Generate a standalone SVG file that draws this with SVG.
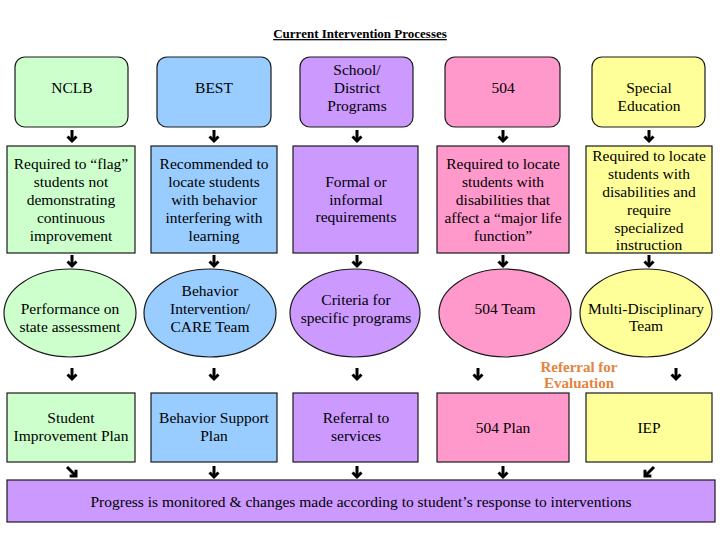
<svg xmlns="http://www.w3.org/2000/svg" width="720" height="540" viewBox="0 0 720 540">
<style>
.t{font-family:"Liberation Serif","Times New Roman",serif;font-size:15.5px;fill:#000;text-anchor:middle}
.ttl{font-family:"Liberation Serif","Times New Roman",serif;font-size:13px;font-weight:bold;text-anchor:middle;text-decoration:underline}
.ref{font-family:"Liberation Serif","Times New Roman",serif;font-size:15px;font-weight:bold;fill:#E3843F;text-anchor:middle}
.g{fill:#CCFFCC}.b{fill:#99CCFF}.p{fill:#CC99FF}.k{fill:#FF99CC}.y{fill:#FFFF99}
.s{stroke:#1a1a1a;stroke-width:1.2}
.a{stroke:#000;stroke-width:3;fill:none}
</style>
<defs>
<marker id="h" markerUnits="userSpaceOnUse" markerWidth="12" markerHeight="12" refX="0" refY="0" orient="auto" overflow="visible">
<path d="M-4.5,-4.5 L0,0 L-4.5,4.5" fill="none" stroke="#000" stroke-width="3"/>
</marker>
</defs>
<rect width="720" height="540" fill="#fff"/>
<text class="ttl" x="360" y="38">Current Intervention Processes</text>

<g id="nclb">
<rect class="g s" x="15" y="57" width="113" height="70" rx="10"/>
<text class="t" x="72" y="93">NCLB</text>
</g>
<g id="best">
<rect class="b s" x="157" y="57" width="114" height="70" rx="10"/>
<text class="t" x="214" y="93">BEST</text>
</g>
<g id="school">
<rect class="p s" x="300" y="57" width="113" height="70" rx="10"/>
<text class="t" x="357" y="75">School/</text>
<text class="t" x="357" y="93">District</text>
<text class="t" x="357" y="111">Programs</text>
</g>
<g id="s504">
<rect class="k s" x="445" y="57" width="115" height="70" rx="10"/>
<text class="t" x="503" y="93">504</text>
</g>
<g id="sped">
<rect class="y s" x="592" y="57" width="113" height="70" rx="10"/>
<text class="t" x="649" y="93">Special</text>
<text class="t" x="649" y="111">Education</text>
</g>

<g id="nclb-req">
<rect class="g s" x="7" y="146" width="128" height="107"/>
<text class="t" x="71" y="169">Required to “flag”</text>
<text class="t" x="71" y="187">students not</text>
<text class="t" x="71" y="205">demonstrating</text>
<text class="t" x="71" y="223">continuous</text>
<text class="t" x="71" y="241">improvement</text>
</g>
<g id="best-req">
<rect class="b s" x="151" y="146" width="126" height="107"/>
<text class="t" x="214" y="169">Recommended to</text>
<text class="t" x="214" y="187">locate students</text>
<text class="t" x="214" y="205">with behavior</text>
<text class="t" x="214" y="223">interfering with</text>
<text class="t" x="214" y="241">learning</text>
</g>
<g id="school-req">
<rect class="p s" x="293" y="146" width="125" height="107"/>
<text class="t" x="356" y="187">Formal or</text>
<text class="t" x="356" y="205">informal</text>
<text class="t" x="356" y="222">requirements</text>
</g>
<g id="s504-req">
<rect class="k s" x="437" y="146" width="132" height="107"/>
<text class="t" x="503" y="169">Required to locate</text>
<text class="t" x="503" y="187">students with</text>
<text class="t" x="503" y="205">disabilities that</text>
<text class="t" x="503" y="223">affect a “major life</text>
<text class="t" x="503" y="241">function”</text>
</g>
<g id="sped-req">
<rect class="y s" x="586" y="146" width="126" height="107"/>
<text class="t" x="649" y="161">Required to locate</text>
<text class="t" x="649" y="179">students with</text>
<text class="t" x="649" y="197">disabilities and</text>
<text class="t" x="649" y="215">require</text>
<text class="t" x="649" y="233">specialized</text>
<text class="t" x="649" y="250">instruction</text>
</g>

<g id="nclb-team">
<ellipse class="g s" cx="70" cy="313" rx="66" ry="44"/>
<text class="t" x="70" y="314">Performance on</text>
<text class="t" x="70" y="332">state assessment</text>
</g>
<g id="best-team">
<ellipse class="b s" cx="210" cy="313" rx="66" ry="44"/>
<text class="t" x="210" y="296">Behavior</text>
<text class="t" x="210" y="314">Intervention/</text>
<text class="t" x="210" y="332">CARE Team</text>
</g>
<g id="school-team">
<ellipse class="p s" cx="355" cy="313" rx="65" ry="44"/>
<text class="t" x="356" y="305">Criteria for</text>
<text class="t" x="356" y="323">specific programs</text>
</g>
<g id="s504-team">
<ellipse class="k s" cx="505" cy="313" rx="66" ry="44"/>
<text class="t" x="505" y="314">504 Team</text>
</g>
<g id="sped-team">
<ellipse class="y s" cx="646" cy="313" rx="66" ry="44"/>
<text class="t" x="646" y="314">Multi-Disciplinary</text>
<text class="t" x="646" y="331">Team</text>
</g>

<g id="referral-label">
<text class="ref" x="579" y="372">Referral for</text>
<text class="ref" x="579" y="388">Evaluation</text>
</g>

<g id="nclb-plan">
<rect class="g s" x="7" y="393" width="128" height="69"/>
<text class="t" x="71" y="423">Student</text>
<text class="t" x="71" y="441">Improvement Plan</text>
</g>
<g id="best-plan">
<rect class="b s" x="151" y="393" width="126" height="69"/>
<text class="t" x="214" y="423">Behavior Support</text>
<text class="t" x="214" y="441">Plan</text>
</g>
<g id="school-plan">
<rect class="p s" x="293" y="393" width="125" height="69"/>
<text class="t" x="356" y="423">Referral to</text>
<text class="t" x="356" y="441">services</text>
</g>
<g id="s504-plan">
<rect class="k s" x="437" y="393" width="132" height="69"/>
<text class="t" x="503" y="433">504 Plan</text>
</g>
<g id="sped-plan">
<rect class="y s" x="586" y="393" width="126" height="69"/>
<text class="t" x="649" y="433">IEP</text>
</g>

<g id="progress">
<rect class="p s" x="7" y="480" width="708" height="42"/>
<text class="t" x="361" y="507">Progress is monitored &amp; changes made according to student’s response to interventions</text>
</g>

<g id="connectors">
<line class="a" x1="72" y1="130" x2="72" y2="141" marker-end="url(#h)"/>
<line class="a" x1="214" y1="130" x2="214" y2="141" marker-end="url(#h)"/>
<line class="a" x1="357" y1="130" x2="357" y2="141" marker-end="url(#h)"/>
<line class="a" x1="503" y1="130" x2="503" y2="141" marker-end="url(#h)"/>
<line class="a" x1="649" y1="130" x2="649" y2="141" marker-end="url(#h)"/>

<line class="a" x1="72" y1="255" x2="72" y2="266" marker-end="url(#h)"/>
<line class="a" x1="214" y1="255" x2="214" y2="266" marker-end="url(#h)"/>
<line class="a" x1="357" y1="255" x2="357" y2="266" marker-end="url(#h)"/>
<line class="a" x1="503" y1="255" x2="503" y2="266" marker-end="url(#h)"/>
<line class="a" x1="649" y1="255" x2="649" y2="266" marker-end="url(#h)"/>

<line class="a" x1="72" y1="368" x2="72" y2="379" marker-end="url(#h)"/>
<line class="a" x1="214" y1="368" x2="214" y2="379" marker-end="url(#h)"/>
<line class="a" x1="357" y1="368" x2="357" y2="379" marker-end="url(#h)"/>
<line class="a" x1="478" y1="368" x2="478" y2="379" marker-end="url(#h)"/>
<line class="a" x1="676" y1="368" x2="676" y2="379" marker-end="url(#h)"/>

<line class="a" x1="67" y1="467" x2="76" y2="476" marker-end="url(#h)"/>
<line class="a" x1="214" y1="466" x2="214" y2="477" marker-end="url(#h)"/>
<line class="a" x1="357" y1="466" x2="357" y2="477" marker-end="url(#h)"/>
<line class="a" x1="503" y1="466" x2="503" y2="477" marker-end="url(#h)"/>
<line class="a" x1="654" y1="467" x2="645" y2="476" marker-end="url(#h)"/>
</g>
</svg>
